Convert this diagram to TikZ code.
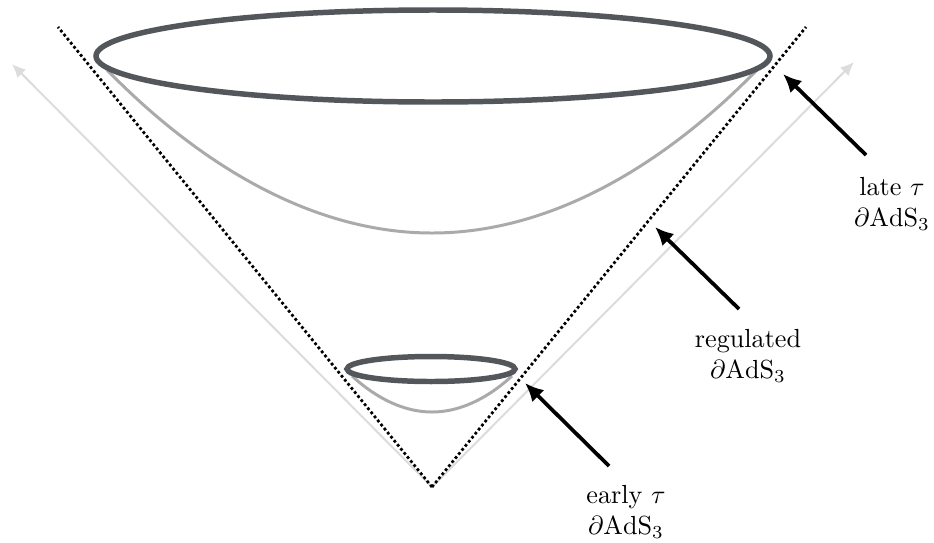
\documentclass[tikz,border=0pt]{standalone}
\usepackage{amsmath, amssymb}
\usetikzlibrary{arrows.meta}
\definecolor{slicegray}{HTML}{53575C}
\definecolor{bowlgray}{HTML}{A9ABAA}
\definecolor{axisgray}{HTML}{DCDCDC}
\tikzset{
  lightcone/.style={densely dotted, line width=1.1pt, black},
  timeaxis/.style={-{Latex[length=1.9mm, width=1.7mm]}, line width=0.8pt, axisgray},
  slice/.style={line width=2.2pt, slicegray},
  bowl/.style={line width=1.2pt, bowlgray},
  pointer/.style={-{Latex[length=2.6mm, width=2.4mm]}, line width=1.5pt, black},
  tag/.style={align=center, font=\normalsize, scale=1.05}
}

\begin{document}
\begin{tikzpicture}[x=0.141mm, y=-0.141mm]
      \useasboundingbox (0,0) rectangle (934,542);
      % cone
      \coordinate (apex) at (432,487);
      \coordinate (lcone) at (58,27);
      \coordinate (rcone) at (806,27);
      \coordinate (laxis) at (12,64);
      \coordinate (raxis) at (854,62);
      \draw[timeaxis] (apex) -- (laxis);
      \draw[timeaxis] (apex) -- (raxis);
      \draw[lightcone] (apex) -- (lcone);
      \draw[lightcone] (apex) -- (rcone);
      % late slice
      \draw[bowl] (107,70) parabola bend (432,233) (757,70);
      \draw[slice] (433,56) ellipse [x radius=337, y radius=46];
      % early slice
      \draw[bowl] (352,376) parabola bend (432,412) (512,376);
      \draw[slice] (431,369) ellipse [x radius=84, y radius=12.5];
      % labels
      \node[tag] (late) at (892,204) {late $\tau$\\$\partial\mathrm{AdS}_3$};
      \node[tag] (reg) at (748,356) {regulated\\$\partial\mathrm{AdS}_3$};
      \node[tag] (early) at (626,512) {early $\tau$\\$\partial\mathrm{AdS}_3$};
      \coordinate (latetail) at (866,155);
      \coordinate (latetip) at (783,74);
      \coordinate (regtail) at (739,309);
      \coordinate (regtip) at (655,227);
      \coordinate (earlytail) at (609,466);
      \coordinate (earlytip) at (525,383);
      \draw[pointer] (latetail) -- (latetip);
      \draw[pointer] (regtail) -- (regtip);
      \draw[pointer] (earlytail) -- (earlytip);
\end{tikzpicture}
\end{document}
